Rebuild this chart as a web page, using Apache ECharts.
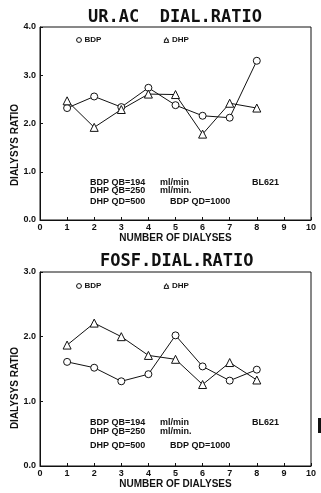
<!DOCTYPE html>
<html>
<head>
<meta charset="utf-8">
<script src="https://cdn.jsdelivr.net/npm/echarts@6/dist/echarts.min.js"></script>
<style>
  html, body { margin: 0; padding: 0; background: #fff; }
  #chart { width: 321px; height: 493px; }
</style>
</head>
<body>
<div id="chart"></div>
<script>
// Dialysis number on the x axis (shared by both panels)
const dialyses = [1, 2, 3, 4, 5, 6, 7, 8];

// Uric acid dialysance ratio
const urBDP = [2.32, 2.56, 2.34, 2.74, 2.38, 2.16, 2.12, 3.30];
const urDHP = [2.47, 1.92, 2.29, 2.61, 2.60, 1.78, 2.42, 2.32];

// Phosphate dialysance ratio
const fosfBDP = [1.61, 1.52, 1.31, 1.42, 2.02, 1.54, 1.32, 1.49];
const fosfDHP = [1.87, 2.21, 2.00, 1.71, 1.65, 1.26, 1.60, 1.33];

const xTicks = [0, 1, 2, 3, 4, 5, 6, 7, 8, 9, 10];
const urTicks = [0, 1, 2, 3, 4];
const fosfTicks = [0, 1, 2, 3];

// Treatment settings printed inside each panel
const notesLeft = ['BDP QB=194', 'DHP QB=250', 'DHP QD=500'];
const notesRight = ['ml/min', 'ml/min.', 'BDP QD=1000'];
const patient = 'BL621';

const pairs = (vals) => dialyses.map((d, i) => [d, vals[i]]);

const LABEL_FONT = 'Liberation Sans';
const INK = '#111';

function xAxisFor(gridIndex) {
  return {
    gridIndex, type: 'value', min: xTicks[0], max: xTicks[xTicks.length - 1], interval: 1,
    name: 'NUMBER OF DIALYSES', nameLocation: 'middle', nameGap: 12,
    nameTextStyle: { fontFamily: LABEL_FONT, fontSize: 10, fontWeight: 'bold', color: INK },
    axisLine: { show: true, lineStyle: { color: INK, width: 1 } },
    axisTick: { show: true, inside: true, length: 3, lineStyle: { color: INK } },
    axisLabel: { fontFamily: LABEL_FONT, fontSize: 9, fontWeight: 'bold', color: INK, margin: 3 },
    splitLine: { show: false }
  };
}

function yAxisFor(gridIndex, ticks) {
  return {
    gridIndex, type: 'value', min: ticks[0], max: ticks[ticks.length - 1], interval: 1,
    axisLine: { show: true, lineStyle: { color: INK, width: 1 } },
    axisTick: { show: true, inside: true, length: 3, lineStyle: { color: INK } },
    axisLabel: { fontFamily: LABEL_FONT, fontSize: 9, fontWeight: 'bold', color: INK, margin: 4,
                 formatter: (v) => v.toFixed(1) },
    splitLine: { show: false }
  };
}

// Hollow markers drawn as white-filled shapes with a thin outline
function lineSeries(name, vals, idx, symbol, size) {
  return {
    name, type: 'line', xAxisIndex: idx, yAxisIndex: idx, data: pairs(vals),
    symbol, symbolSize: size,
    lineStyle: { color: INK, width: 1 },
    itemStyle: { color: '#fff', borderColor: INK, borderWidth: 1 },
    animation: false
  };
}

function legendAt(top) {
  return {
    top, left: 76, padding: 0, itemWidth: 5, itemHeight: 6, itemGap: 62,
    data: ['BDP', 'DHP'],
    itemStyle: { color: '#fff', borderColor: INK, borderWidth: 1 },
    lineStyle: { color: INK, width: 1 },
    textStyle: { fontFamily: LABEL_FONT, fontSize: 8, fontWeight: 'bold', color: INK, padding: [0, 0, 0, -2] },
    selectedMode: false
  };
}

function noteTexts(ys) {
  const style = { fontFamily: LABEL_FONT, fontSize: 9, fontWeight: 'bold', fill: INK, verticalAlign: 'middle' };
  const items = [];
  notesLeft.forEach((t, i) => {
    items.push({ type: 'text', x: 90, y: ys[i], style: { ...style, text: t } });
    items.push({ type: 'text', x: i < 2 ? 160 : 170, y: ys[i], style: { ...style, text: notesRight[i] } });
  });
  items.push({ type: 'text', x: 252, y: ys[0], style: { ...style, text: patient } });
  return items;
}

function yName(cx, cy) {
  return {
    type: 'text', x: cx, y: cy, rotation: Math.PI / 2,
    style: { text: 'DIALYSYS RATIO', fontFamily: LABEL_FONT, fontSize: 10, fontWeight: 'bold',
             fill: INK, align: 'center', verticalAlign: 'middle' }
  };
}

const chart = echarts.init(document.getElementById('chart'), null, { renderer: 'canvas' });
chart.setOption({
  backgroundColor: '#fff',
  animation: false,
  title: [
    { text: 'UR.AC  DIAL.RATIO', left: 83, top: 4,
      textStyle: { fontFamily: 'DejaVu Sans Mono', fontSize: 17, fontWeight: 'bold', color: INK } },
    { text: 'FOSF.DIAL.RATIO', left: 95, top: 248,
      textStyle: { fontFamily: 'DejaVu Sans Mono', fontSize: 17, fontWeight: 'bold', color: INK } }
  ],
  legend: [legendAt(36), legendAt(282)],
  grid: [
    { left: 40, right: 10, top: 27, height: 193, show: true, borderColor: INK, borderWidth: 1, backgroundColor: 'transparent' },
    { left: 40, right: 10, top: 272, height: 194, show: true, borderColor: INK, borderWidth: 1, backgroundColor: 'transparent' }
  ],
  xAxis: [xAxisFor(0), xAxisFor(1)],
  yAxis: [yAxisFor(0, urTicks), yAxisFor(1, fosfTicks)],
  series: [
    lineSeries('BDP', urBDP, 0, 'circle', 7),
    lineSeries('DHP', urDHP, 0, 'triangle', 8),
    lineSeries('BDP', fosfBDP, 1, 'circle', 7),
    lineSeries('DHP', fosfDHP, 1, 'triangle', 8)
  ],
  graphic: [
    yName(15, 145),
    yName(15, 388),
    ...noteTexts([183, 191, 202]),
    ...noteTexts([423, 432, 446]),
    { type: 'rect', shape: { x: 318, y: 418, width: 3, height: 15 }, style: { fill: INK } }
  ]
});
</script>
</body>
</html>
